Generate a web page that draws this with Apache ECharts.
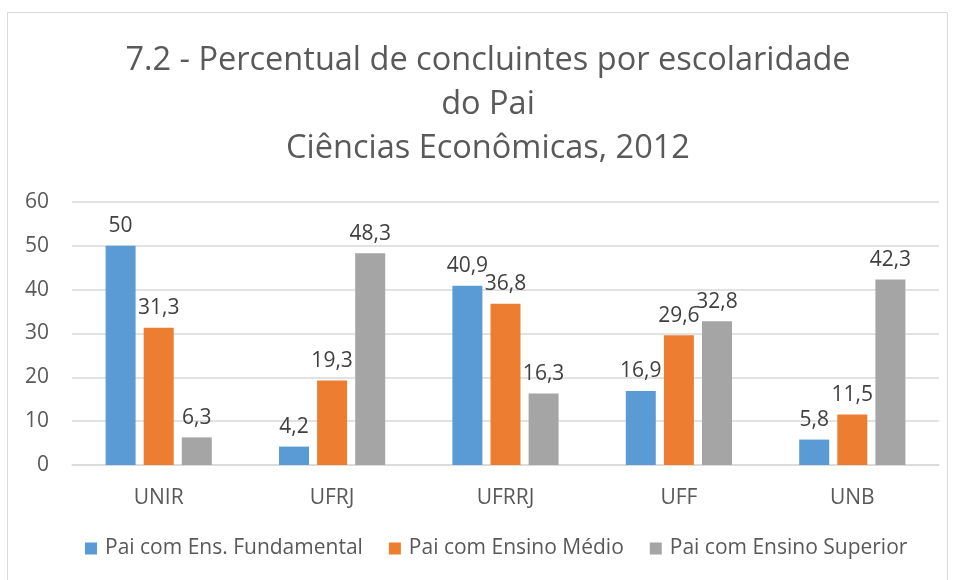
<!DOCTYPE html>
<html>
<head>
<meta charset="utf-8">
<script src="https://cdn.jsdelivr.net/npm/echarts@6/dist/echarts.min.js"></script>
<style>
  html, body { margin: 0; padding: 0; background: #fff; }
  #chart { width: 955px; height: 580px; }
</style>
</head>
<body>
<div id="chart"></div>
<script>
// 分类与数据
const categories = ['UNIR', 'UFRJ', 'UFRRJ', 'UFF', 'UNB'];
const seriesNames = ['Pai com Ens. Fundamental', 'Pai com Ensino Médio', 'Pai com Ensino Superior'];
const fundamental = [50, 4.2, 40.9, 16.9, 5.8];
const medio = [31.3, 19.3, 36.8, 29.6, 11.5];
const superior = [6.3, 48.3, 16.3, 32.8, 42.3];
const colors = ['#5b9bd5', '#ed7d31', '#a5a5a5'];

const chart = echarts.init(document.getElementById('chart'));
const font = 'Open Sans';

const makeSeries = (name, data, color) => ({
  name: name,
  type: 'bar',
  data: data,
  barWidth: 30,
  barGap: '27%',
  itemStyle: { color: color },
  label: {
    show: true,
    position: 'top',
    distance: 9,
    color: '#404040',
    fontFamily: font,
    fontSize: 21,
    formatter: (p) => String(p.value).replace('.', ',')
  }
});

chart.setOption({
  animation: false,
  textStyle: { fontFamily: font },
  graphic: [{
    type: 'rect',
    shape: { x: 7.5, y: 12.5, width: 940, height: 575 },
    style: { fill: 'none', stroke: '#d9d9d9', lineWidth: 1 }
  }],
  title: {
    text: '7.2 - Percentual de concluintes por escolaridade\ndo Pai\nCiências Econômicas, 2012',
    left: 483,
    textAlign: 'center',
    top: 34,
    textStyle: {
      fontFamily: font,
      fontSize: 32.5,
      fontWeight: 'normal',
      color: '#595959',
      lineHeight: 44
    }
  },
  legend: {
    bottom: 16,
    left: 80,
    itemWidth: 12,
    itemHeight: 12,
    itemGap: 26,
    icon: 'rect',
    textStyle: { fontFamily: font, fontSize: 21, color: '#595959', padding: [0, 0, 0, 3] },
    data: seriesNames
  },
  grid: { left: 72, right: 16, top: 202, bottom: 115, containLabel: false },
  xAxis: {
    type: 'category',
    data: categories,
    axisLine: { lineStyle: { color: '#d9d9d9', width: 1.5 } },
    axisTick: { show: false },
    axisLabel: { fontFamily: font, fontSize: 21, color: '#595959', margin: 23 }
  },
  yAxis: {
    type: 'value',
    min: 0,
    max: 60,
    interval: 10,
    axisLine: { show: false },
    axisTick: { show: false },
    splitLine: { lineStyle: { color: '#d9d9d9', width: 1.5 } },
    axisLabel: { fontFamily: font, fontSize: 21, color: '#595959', margin: 23 }
  },
  series: [
    makeSeries(seriesNames[0], fundamental, colors[0]),
    makeSeries(seriesNames[1], medio, colors[1]),
    makeSeries(seriesNames[2], superior, colors[2])
  ]
});
</script>
</body>
</html>
